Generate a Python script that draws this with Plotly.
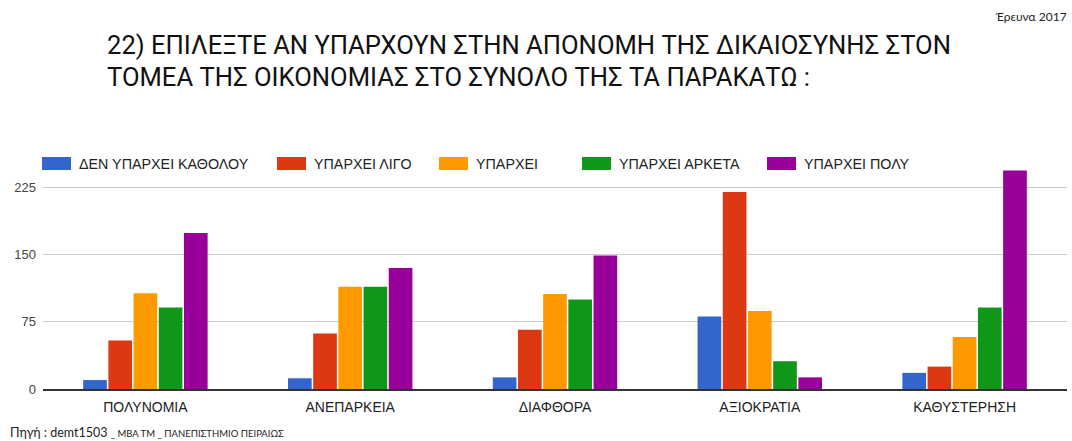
import plotly.graph_objects as go

# Survey answers per sector
categories = ["ΠΟΛΥΝΟΜΙΑ", "ΑΝΕΠΑΡΚΕΙΑ", "ΔΙΑΦΘΟΡΑ", "ΑΞΙΟΚΡΑΤΙΑ", "ΚΑΘΥΣΤΕΡΗΣΗ"]
series_names = [
    "ΔΕΝ ΥΠΑΡΧΕΙ ΚΑΘΟΛΟΥ",
    "ΥΠΑΡΧΕΙ ΛΙΓΟ",
    "ΥΠΑΡΧΕΙ",
    "ΥΠΑΡΧΕΙ ΑΡΚΕΤΑ",
    "ΥΠΑΡΧΕΙ ΠΟΛΥ",
]
den_yparxei_katholou = [10, 12, 13, 81, 18]
yparxei_ligo = [54, 62, 66, 220, 25]
yparxei = [107, 114, 106, 87, 58]
yparxei_arketa = [91, 114, 100, 31, 91]
yparxei_poly = [174, 135, 149, 13, 244]
series_values = [den_yparxei_katholou, yparxei_ligo, yparxei, yparxei_arketa, yparxei_poly]

colors = ["#3366cc", "#dc3912", "#ff9900", "#109618", "#990099"]
y_ticks = [0, 75, 150, 225]

W, H = 1072, 441
ML, MR, MT, MB = 43, 5, 165, 52
PW, PH = W - ML - MR, H - MT - MB


def px_x(px):
    return (px - ML) / PW


def px_y(py):
    return (H - MB - py) / PH


fig = go.Figure()
for name, vals, col in zip(series_names, series_values, colors):
    fig.add_trace(go.Bar(
        x=categories, y=vals, name=name,
        marker=dict(color=col, line=dict(width=0)),
        showlegend=False,
    ))

# Legend row: colour swatches with labels
legend_x = [42, 277, 439, 582, 767]
shapes = []
annotations = []
for lx, name, col in zip(legend_x, series_names, colors):
    shapes.append(dict(
        type="rect", xref="paper", yref="paper",
        x0=px_x(lx), x1=px_x(lx + 29), y0=px_y(170), y1=px_y(157),
        fillcolor=col, line=dict(width=0),
    ))
    annotations.append(dict(
        text=name, xref="paper", yref="paper",
        x=px_x(lx + 35), y=px_y(164), xanchor="left", yanchor="middle",
        showarrow=False, font=dict(family="Liberation Sans", size=14.3, color="#222222"),
    ))

# Title (two lines)
title_font = dict(family="Roboto", size=25.6, color="#111111")
annotations.append(dict(
    text="22) ΕΠΙΛΕΞΤΕ ΑΝ ΥΠΑΡΧΟΥΝ ΣΤΗΝ ΑΠΟΝΟΜΗ ΤΗΣ ΔΙΚΑΙΟΣΥΝΗΣ ΣΤΟΝ",
    xref="paper", yref="paper", x=px_x(105), y=px_y(45),
    xanchor="left", yanchor="middle", showarrow=False, font=title_font,
))
annotations.append(dict(
    text="ΤΟΜΕΑ ΤΗΣ ΟΙΚΟΝΟΜΙΑΣ ΣΤΟ ΣΥΝΟΛΟ ΤΗΣ ΤΑ ΠΑΡΑΚΑΤΩ :",
    xref="paper", yref="paper", x=px_x(105), y=px_y(77),
    xanchor="left", yanchor="middle", showarrow=False, font=title_font,
))

# Survey year, top right
annotations.append(dict(
    text="Έρευνα 2017", xref="paper", yref="paper",
    x=px_x(1069), y=px_y(16), xanchor="right", yanchor="middle",
    showarrow=False, font=dict(family="Lato", size=12, color="#222222"),
))

# Source line, bottom left
annotations.append(dict(
    text="Πηγή : demt1503 <span style='font-size:9.5px'>_ MBA TM _ ΠΑΝΕΠΙΣΤΗΜΙΟ ΠΕΙΡΑΙΩΣ</span>",
    xref="paper", yref="paper", x=px_x(8), y=px_y(432),
    xanchor="left", yanchor="middle", showarrow=False,
    font=dict(family="Lato", size=12.5, color="#222222"),
))

fig.update_layout(
    width=W, height=H,
    margin=dict(l=ML, r=MR, t=MT, b=MB),
    paper_bgcolor="white", plot_bgcolor="white",
    barmode="group", bargap=0.385, bargroupgap=0.06,
    shapes=shapes, annotations=annotations,
    xaxis=dict(
        showgrid=False, showline=True, linecolor="#333333", linewidth=1.5,
        ticks="", tickfont=dict(family="Liberation Sans", size=14, color="#222222"),
        ticklabelstandoff=4,
    ),
    yaxis=dict(
        range=[0, 250], tickvals=y_ticks, showgrid=True, gridcolor="#cccccc",
        gridwidth=1, zeroline=False, showline=False, ticks="",
        tickfont=dict(family="Liberation Sans", size=13, color="#444444"),
        ticklabelstandoff=6,
    ),
)

fig.write_html("out.html")
